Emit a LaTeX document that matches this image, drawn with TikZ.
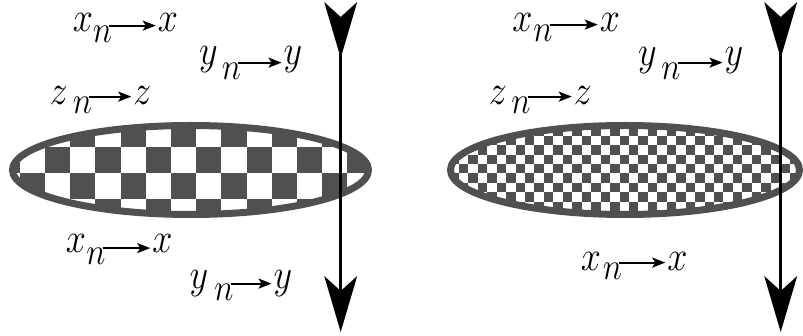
\RequirePackage{fix-cm}
\documentclass[tikz,border=0pt]{standalone}
\usetikzlibrary{arrows.meta}
\definecolor{band}{RGB}{80,80,80}
\newcommand\glyphtx[1]{\scalebox{0.86}[1]{$#1$}}
\tikzset{
  glyph/.style={inner sep=0pt, font=\fontsize{42}{42}\selectfont},
  subn/.style={inner sep=0pt, font=\fontsize{38}{38}\selectfont},
  sarr/.style={line width=2pt, shorten >=2pt, -{Stealth[length=13pt,width=10pt,inset=3pt]}},
  axisline/.style={line width=3pt, -{Stealth[length=56pt,width=33pt,inset=15pt,line width=0pt]}},
  rim/.style={draw=band, line width=7pt},
}
\begin{document}
\begin{tikzpicture}[x=1pt,y=-1pt]
\useasboundingbox (0,0) rectangle (803,336);
% left checker ellipse
\begin{scope}
  \clip (190.5,170) ellipse [x radius=178, y radius=44.5];
  \foreach \i in {-7,...,13}{
    \foreach \j in {-2,...,2}{
      \pgfmathtruncatemacro{\cpar}{mod(\i+\j+100,2)}
      \ifnum\cpar=0
        \fill[band] (45+25.2*\i,147.3+25.8*\j) rectangle ++(25.2,25.8);
      \fi
    }
  }
\end{scope}
\draw[rim] (190.5,170) ellipse [x radius=178, y radius=44.5];
% right checker ellipse
\begin{scope}
  \clip (625,170) ellipse [x radius=174.5, y radius=44.5];
  \foreach \i in {-3,...,36}{
    \foreach \j in {-2,...,9}{
      \pgfmathtruncatemacro{\cpar}{mod(\i+\j+100,2)}
      \ifnum\cpar=0
        \fill[band] (468.3+9.45*\i,135.7+9.43*\j) rectangle ++(9.45,9.43);
      \fi
    }
  }
\end{scope}
\draw[rim] (625,170) ellipse [x radius=174.5, y radius=44.5];
% vertical arrows
\coordinate (La) at (340.7,18);
\coordinate (Lb) at (340.7,58);
\coordinate (Lc) at (340.7,332);
\draw[axisline] (La) -- (Lc);
\draw[axisline] (La) -- (Lb);
\coordinate (Ra) at (780.7,18);
\coordinate (Rb) at (780.7,58);
\coordinate (Rc) at (780.7,332);
\draw[axisline] (Ra) -- (Rc);
\draw[axisline] (Ra) -- (Rb);
% left labels
\node[glyph] (x1) at (83,22) {\glyphtx{x}};
\node[subn] (n1) at (102.5,34) {\glyphtx{n}};
\node[glyph] (x1t) at (168,22) {\glyphtx{x}};
\draw[sarr] ([xshift=-3pt]n1.north east) -- (n1.north -| x1t.west);
\node[glyph] (y1) at (208.5,60) {\glyphtx{y}};
\node[subn] (n2) at (231.5,71) {\glyphtx{n}};
\node[glyph] (y1t) at (293,60) {\glyphtx{y}};
\draw[sarr] ([xshift=-3pt]n2.north east) -- (n2.north -| y1t.west);
\node[glyph] (z1) at (59,95) {\glyphtx{z}};
\node[subn] (n3) at (82.5,105) {\glyphtx{n}};
\node[glyph] (z1t) at (142.5,95) {\glyphtx{z}};
\draw[sarr] ([xshift=-3pt]n3.north east) -- (n3.north -| z1t.west);
\node[glyph] (x2) at (76,243) {\glyphtx{x}};
\node[subn] (n4) at (96,256.5) {\glyphtx{n}};
\node[glyph] (x2t) at (162.5,243) {\glyphtx{x}};
\draw[sarr] ([xshift=-3pt]n4.north east) -- (n4.north -| x2t.west);
\node[glyph] (y2) at (199,283.5) {\glyphtx{y}};
\node[subn] (n5) at (224,292) {\glyphtx{n}};
\node[glyph] (y2t) at (283,283.5) {\glyphtx{y}};
\draw[sarr] ([xshift=-3pt]n5.north east) -- (n5.north -| y2t.west);
% right labels
\node[glyph] (x3) at (522.5,22) {\glyphtx{x}};
\node[subn] (n6) at (543,33) {\glyphtx{n}};
\node[glyph] (x3t) at (610,22) {\glyphtx{x}};
\draw[sarr] ([xshift=-3pt]n6.north east) -- (n6.north -| x3t.west);
\node[glyph] (y3) at (647.5,61) {\glyphtx{y}};
\node[subn] (n7) at (671,71) {\glyphtx{n}};
\node[glyph] (y3t) at (734,61) {\glyphtx{y}};
\draw[sarr] ([xshift=-3pt]n7.north east) -- (n7.north -| y3t.west);
\node[glyph] (z3) at (498,95) {\glyphtx{z}};
\node[subn] (n8) at (521,105) {\glyphtx{n}};
\node[glyph] (z3t) at (583,95) {\glyphtx{z}};
\draw[sarr] ([xshift=-3pt]n8.north east) -- (n8.north -| z3t.west);
\node[glyph] (x4) at (591,261) {\glyphtx{x}};
\node[subn] (n9) at (612.5,271) {\glyphtx{n}};
\node[glyph] (x4t) at (677.5,261) {\glyphtx{x}};
\draw[sarr] ([xshift=-3pt]n9.north east) -- (n9.north -| x4t.west);
\end{tikzpicture}
\end{document}
